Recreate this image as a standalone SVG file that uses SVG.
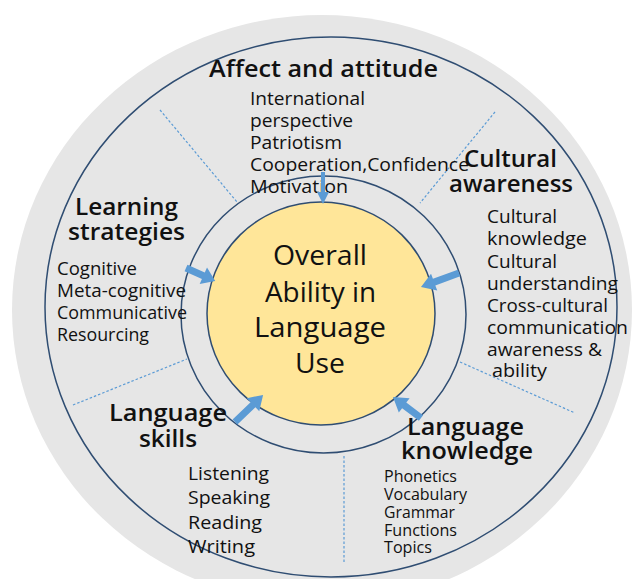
<svg xmlns="http://www.w3.org/2000/svg" width="633" height="579" viewBox="0 0 633 579">
  <defs>
    <style>
      .bg { fill: #e6e6e6; stroke: none; }
      .ring { fill: none; stroke: #2f4d72; stroke-width: 1.5; }
      .core { fill: #ffe699; stroke: #2f4d72; stroke-width: 1.5; }
      .divider { fill: none; stroke: #5b9bd5; stroke-width: 1.2; stroke-dasharray: 2.5 2; }
      .arrow { fill: #5b9bd5; stroke: none; }
      text { font-family: "Open Sans", "Noto Sans", "Liberation Sans", sans-serif; fill: #111111; }
      .head { font-size: 24px; font-weight: 600; }
      .item { font-size: 19px; font-weight: 500; }
      .small { font-size: 16px; font-weight: 500; }
      .center { font-size: 28px; font-weight: 400; }
    </style>
  </defs>

  <!-- backdrop disc and outer boundary -->
  <ellipse class="bg" cx="322" cy="310" rx="310" ry="295"/>
  <ellipse class="ring" cx="331" cy="307" rx="286" ry="270"/>

  <!-- dotted sector dividers -->
  <g id="dividers">
    <line class="divider" x1="160" y1="110" x2="237" y2="202"/>
    <line class="divider" x1="495" y1="112" x2="420" y2="203"/>
    <line class="divider" x1="73" y1="405" x2="187" y2="359"/>
    <line class="divider" x1="460" y1="362" x2="575" y2="413"/>
    <line class="divider" x1="344" y1="456" x2="344" y2="562"/>
  </g>

  <!-- inner ring -->
  <ellipse class="ring" cx="323.5" cy="314.5" rx="142.5" ry="138.5"/>

  <g id="overall">
    <ellipse class="core" cx="321" cy="313.5" rx="114" ry="111.5"/>
    <text class="center" x="273" y="265" textLength="94" lengthAdjust="spacingAndGlyphs">Overall</text>
    <text class="center" x="265" y="302" textLength="111" lengthAdjust="spacingAndGlyphs">Ability in</text>
    <text class="center" x="254" y="337" textLength="132" lengthAdjust="spacingAndGlyphs">Language</text>
    <text class="center" x="295" y="373" textLength="50" lengthAdjust="spacingAndGlyphs">Use</text>
  </g>

  <g id="affect">
    <text class="head" x="209" y="77" textLength="229" lengthAdjust="spacingAndGlyphs">Affect and attitude</text>
    <text class="item" x="250" y="105" textLength="115" lengthAdjust="spacingAndGlyphs">International</text>
    <text class="item" x="250" y="127" textLength="103" lengthAdjust="spacingAndGlyphs">perspective</text>
    <text class="item" x="250" y="149" textLength="92" lengthAdjust="spacingAndGlyphs">Patriotism</text>
    <text class="item" x="250" y="171" textLength="219" lengthAdjust="spacingAndGlyphs">Cooperation,Confidence</text>
    <text class="item" x="250" y="193" textLength="98" lengthAdjust="spacingAndGlyphs">Motivation</text>
  </g>

  <g id="cultural">
    <text class="head" x="464" y="167" textLength="93" lengthAdjust="spacingAndGlyphs">Cultural</text>
    <text class="head" x="449" y="192" textLength="124" lengthAdjust="spacingAndGlyphs">awareness</text>
    <text class="item" x="487" y="223" textLength="70" lengthAdjust="spacingAndGlyphs">Cultural</text>
    <text class="item" x="487" y="245" textLength="100" lengthAdjust="spacingAndGlyphs">knowledge</text>
    <text class="item" x="487" y="268" textLength="70" lengthAdjust="spacingAndGlyphs">Cultural</text>
    <text class="item" x="487" y="290" textLength="131" lengthAdjust="spacingAndGlyphs">understanding</text>
    <text class="item" x="487" y="312" textLength="121" lengthAdjust="spacingAndGlyphs">Cross-cultural</text>
    <text class="item" x="487" y="334" textLength="141" lengthAdjust="spacingAndGlyphs">communication</text>
    <text class="item" x="487" y="356" textLength="115" lengthAdjust="spacingAndGlyphs">awareness &amp;</text>
    <text class="item" x="492" y="377" textLength="55" lengthAdjust="spacingAndGlyphs">ability</text>
  </g>

  <g id="strategies">
    <text class="head" x="75" y="215" textLength="103" lengthAdjust="spacingAndGlyphs">Learning</text>
    <text class="head" x="68" y="240" textLength="117" lengthAdjust="spacingAndGlyphs">strategies</text>
    <text class="item" x="57" y="275" textLength="80" lengthAdjust="spacingAndGlyphs">Cognitive</text>
    <text class="item" x="57" y="297" textLength="129" lengthAdjust="spacingAndGlyphs">Meta-cognitive</text>
    <text class="item" x="57" y="319" textLength="130" lengthAdjust="spacingAndGlyphs">Communicative</text>
    <text class="item" x="57" y="341" textLength="92" lengthAdjust="spacingAndGlyphs">Resourcing</text>
  </g>

  <g id="skills">
    <text class="head" x="109" y="421" textLength="118" lengthAdjust="spacingAndGlyphs">Language</text>
    <text class="head" x="139" y="447" textLength="58" lengthAdjust="spacingAndGlyphs">skills</text>
    <text class="item" x="188" y="480" textLength="81" lengthAdjust="spacingAndGlyphs">Listening</text>
    <text class="item" x="188" y="504" textLength="82" lengthAdjust="spacingAndGlyphs">Speaking</text>
    <text class="item" x="188" y="529" textLength="74" lengthAdjust="spacingAndGlyphs">Reading</text>
    <text class="item" x="188" y="553" textLength="67" lengthAdjust="spacingAndGlyphs">Writing</text>
  </g>

  <g id="knowledge">
    <text class="head" x="407" y="435" textLength="117" lengthAdjust="spacingAndGlyphs">Language</text>
    <text class="head" x="401" y="459" textLength="132" lengthAdjust="spacingAndGlyphs">knowledge</text>
    <text class="small" x="384" y="482" textLength="73" lengthAdjust="spacingAndGlyphs">Phonetics</text>
    <text class="small" x="384" y="500" textLength="83" lengthAdjust="spacingAndGlyphs">Vocabulary</text>
    <text class="small" x="384" y="518" textLength="71" lengthAdjust="spacingAndGlyphs">Grammar</text>
    <text class="small" x="384" y="536" textLength="73" lengthAdjust="spacingAndGlyphs">Functions</text>
    <text class="small" x="384" y="553" textLength="48" lengthAdjust="spacingAndGlyphs">Topics</text>
  </g>

  <!-- block arrows pointing into the core, each drawn along +x then placed -->
  <g id="connectors">
    <path class="arrow" transform="translate(323,172) rotate(90)" d="M0,-2 L20,-2 L20,-6 L32,0 L20,6 L20,2 L0,2Z"/>
    <path class="arrow" transform="translate(186,268) rotate(24.1)" d="M0,-3.5 L19,-3.5 L19,-9 L32,0 L19,9 L19,3.5 L0,3.5Z"/>
    <path class="arrow" transform="translate(459,273) rotate(159.8)" d="M0,-3.5 L26.5,-3.5 L26.5,-9 L40.5,0 L26.5,9 L26.5,3.5 L0,3.5Z"/>
    <path class="arrow" transform="translate(235,422) rotate(-43.9)" d="M0,-3.5 L25,-3.5 L25,-9 L39,0 L25,9 L25,3.5 L0,3.5Z"/>
    <path class="arrow" transform="translate(421,418) rotate(-143.1)" d="M0,-3.5 L21,-3.5 L21,-9 L35,0 L21,9 L21,3.5 L0,3.5Z"/>
  </g>
</svg>
